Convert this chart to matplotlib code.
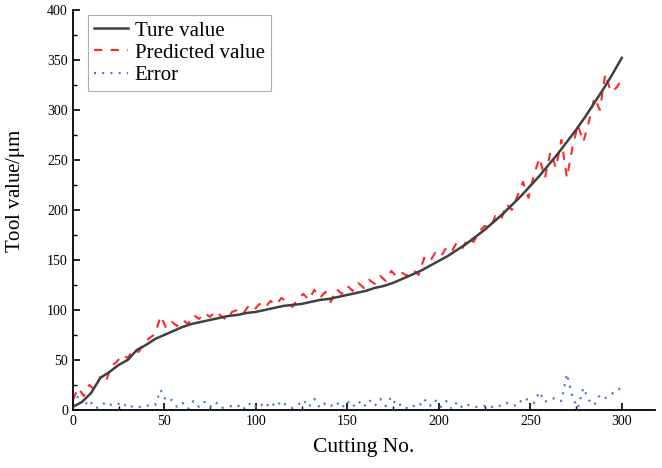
import matplotlib
matplotlib.use('Agg')
import matplotlib.pyplot as plt
from matplotlib.ticker import MultipleLocator
import numpy as np

plt.rcParams['font.family'] = ['Liberation Serif', 'DejaVu Serif']
plt.rcParams['mathtext.fontset'] = 'stix'

# true wear curve, every 5th cut
cuts_true = list(range(0, 301, 5))
true_value = [3, 8, 17, 32, 38, 45, 50, 60, 65, 71,
              75, 79, 83, 86, 88, 90, 92, 94, 95, 97,
              98, 100, 102, 104, 105, 106, 108, 110, 111, 113,
              115, 117, 119, 122, 124, 127, 131, 135, 139, 144,
              149, 154, 160, 166, 173, 180, 188, 196, 205, 214,
              224, 234, 245, 256, 268, 280, 293, 307, 321, 336,
              352]

# prediction and error, every 3rd cut
cuts = list(range(0, 301, 3))
predicted = [10, 22, 14, 25, 20, 33, 28, 44, 48, 55,
             52, 60, 58, 67, 72, 76, 94, 82, 88, 84,
             90, 86, 95, 91, 97, 93, 99, 94, 90, 98,
             100, 96, 104, 100, 106, 102, 109, 105, 112, 108,
             103, 111, 116, 110, 120, 112, 118, 108, 121, 116,
             124, 119, 127, 122, 130, 126, 134, 129, 139, 133,
             137, 134, 140, 135, 152, 148, 157, 153, 162, 158,
             168, 162, 172, 168, 178, 184, 182, 194, 190, 206,
             200, 214, 228, 212, 235, 252, 232, 258, 242, 270,
             232, 262, 285, 268, 288, 312, 300, 336, 318, 322,
             330]

error = [5, 14, 4, 10, 2, 3, 8, 5, 5, 8,
         2, 4, 3, 3, 5, 5, 20, 9, 10, 3,
         7, 1, 9, 3, 8, 3, 8, 2, 3, 4,
         5, 0, 7, 2, 7, 2, 8, 3, 9, 4,
         2, 5, 10, 3, 11, 2, 7, 4, 8, 2,
         9, 3, 9, 3, 10, 4, 11, 4, 13, 4,
         6, 1, 4, 3, 11, 4, 10, 3, 9, 1,
         8, 2, 5, 3, 3, 4, 2, 5, 4, 7,
         5, 4, 12, 10, 7, 18, 8, 11, 12, 9,
         36, 13, 2, 22, 10, 5, 15, 12, 15, 20,
         22]

fig = plt.figure(figsize=(6.62, 4.68), dpi=100)
ax = fig.add_axes([0.110, 0.124, 0.879, 0.855])

ax.plot(cuts_true, true_value, color='#404040', lw=1.8, label='Ture value', zorder=3)
ax.plot(cuts, predicted, color='#ff2828', lw=1.5, dashes=(4, 4), label='Predicted value', zorder=2)
ax.plot(cuts, error, color='#4a78c8', lw=1.6, dashes=(0.9, 2.8), label='Error', zorder=2)

ax.set_xlim(0, 318)
ax.set_ylim(0, 400)
ax.xaxis.set_major_locator(MultipleLocator(50))
ax.xaxis.set_minor_locator(MultipleLocator(25))
ax.yaxis.set_major_locator(MultipleLocator(50))
ax.yaxis.set_minor_locator(MultipleLocator(25))
ax.tick_params(which='major', direction='in', length=5, width=1.2, labelsize=10)
ax.tick_params(which='minor', direction='in', length=3, width=1.0)
ax.spines['top'].set_visible(False)
ax.spines['right'].set_visible(False)
ax.spines['left'].set_linewidth(1.3)
ax.spines['bottom'].set_linewidth(1.3)

ax.set_xlabel('Cutting No.', fontsize=15.5, labelpad=7)
ax.set_ylabel(r'Tool value/$\mathrm{\mu m}$', fontsize=15)
ax.yaxis.set_label_coords(-0.078, 0.548)

leg = ax.legend(loc='upper left', fontsize=15, frameon=True, fancybox=False,
                edgecolor='#999999', handlelength=1.6, handletextpad=0.35,
                borderpad=0.3, labelspacing=0.12, borderaxespad=0,
                bbox_to_anchor=(0.026, 0.9875))
leg.get_frame().set_linewidth(0.8)

fig.savefig('out.png', dpi=100)
